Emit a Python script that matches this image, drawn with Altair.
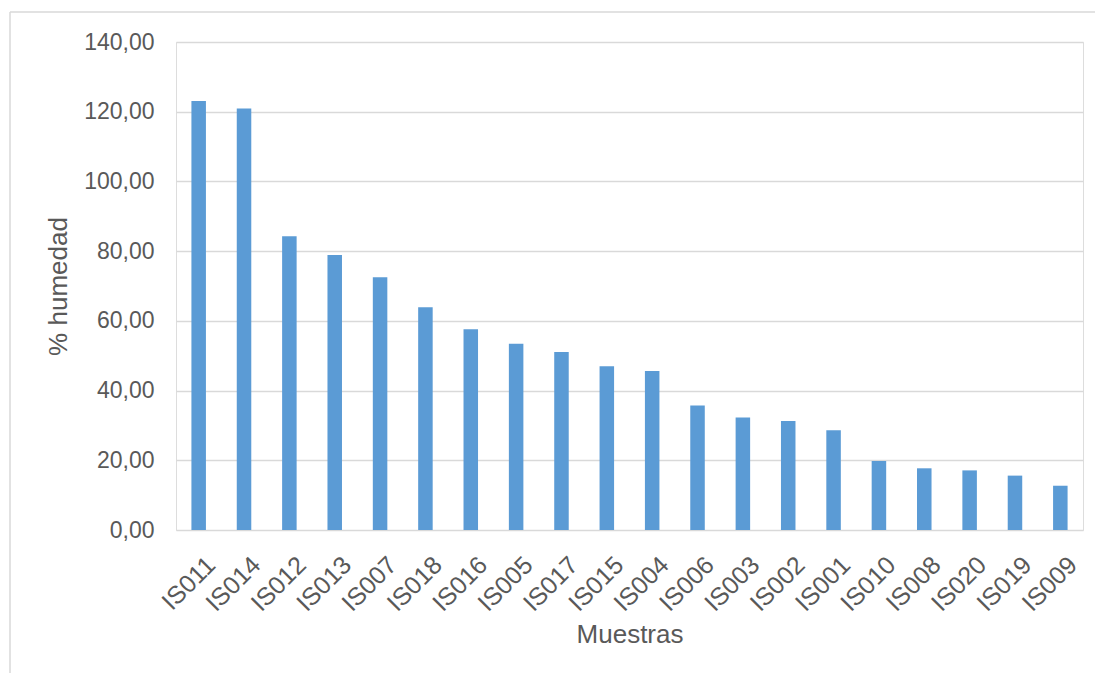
import altair as alt
import pandas as pd

samples = ["IS011", "IS014", "IS012", "IS013", "IS007", "IS018", "IS016", "IS005", "IS017", "IS015",
           "IS004", "IS006", "IS003", "IS002", "IS001", "IS010", "IS008", "IS020", "IS019", "IS009"]
humedad = [123.1, 120.9, 84.3, 78.9, 72.5, 63.9, 57.6, 53.4, 51.1, 47.0,
           45.6, 35.7, 32.3, 31.3, 28.6, 19.8, 17.7, 17.1, 15.6, 12.7]
y_ticks = [0, 20, 40, 60, 80, 100, 120, 140]

df = pd.DataFrame({"Muestras": samples, "humedad": humedad})

W, H = 907, 488
PL, PT = 176, 42
FONT = "Liberation Sans"
TXT = "#595959"
GRID = "#D9D9D9"

bars = alt.Chart(df).mark_bar(color="#5B9BD5").encode(
    x=alt.X("Muestras:N", sort=samples,
            scale=alt.Scale(paddingInner=0.68, paddingOuter=0.34),
            axis=alt.Axis(title="Muestras", labelAngle=-45, labelAlign="right",
                          labelBaseline="top", labelPadding=22, labelOffset=4,
                          labelFontSize=25, labelColor=TXT, labelFont=FONT,
                          ticks=False, domain=False, grid=False,
                          titleFontSize=26, titleColor=TXT, titleFont=FONT,
                          titleFontWeight="normal", titleY=112,
                          titleBaseline="alphabetic")),
    y=alt.Y("humedad:Q", scale=alt.Scale(domain=[0, 140], nice=False),
            axis=alt.Axis(title="% humedad", values=y_ticks,
                          labelExpr="replace(format(datum.value, '.2f'), '.', ',')",
                          labelFontSize=23, labelColor=TXT, labelFont=FONT,
                          labelPadding=22, ticks=False, domain=False,
                          grid=True, gridColor=GRID, gridWidth=1.5,
                          titleFontSize=26, titleColor=TXT, titleFont=FONT,
                          titleFontWeight="normal", titleAngle=270,
                          titleX=-110, titleY=H / 2, titleAlign="center",
                          titleBaseline="alphabetic")),
)

frame = pd.DataFrame({"k": [0]})
vline = alt.Chart(frame).mark_rule(color=GRID, strokeWidth=1.5).encode(
    x=alt.value(10 - PL), y=alt.value(12 - PT), y2=alt.value(673 - PT))
hline = alt.Chart(frame).mark_rule(color=GRID, strokeWidth=1.5).encode(
    x=alt.value(10 - PL), x2=alt.value(1095 - PL), y=alt.value(12 - PT))

chart = alt.layer(bars, vline, hline).properties(
    width=W, height=H,
    autosize=alt.AutoSizeParams(type="none"),
    padding={"left": PL, "top": PT, "right": 1095 - PL - W, "bottom": 673 - PT - H},
).configure_view(stroke=None).configure(background="white")

chart.save("out.html", embed_options={"renderer": "svg", "actions": False})
